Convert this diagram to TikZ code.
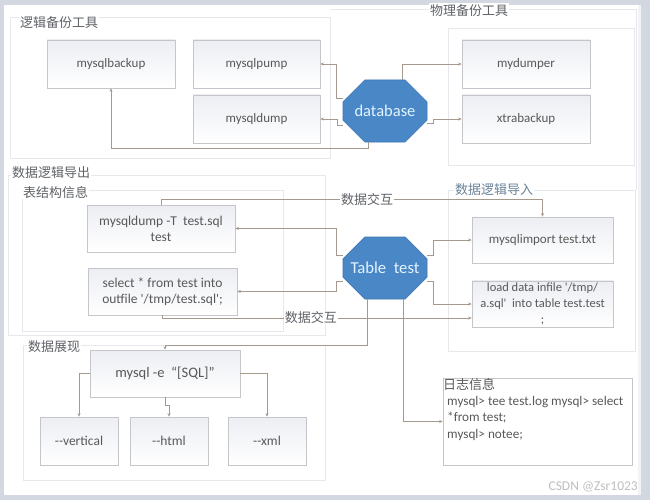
\documentclass[tikz,border=0pt]{standalone}
\usepackage{fontspec}
\usetikzlibrary{shapes.misc,calc,arrows.meta}
\newfontfamily\lat{Carlito}
\newfontfamily\cjk{Noto Sans CJK SC}
\definecolor{frame}{HTML}{D3D8E0}
\definecolor{panelline}{HTML}{E6E8EB}
\definecolor{boxline}{HTML}{C4C6CA}
\definecolor{boxtop}{HTML}{ECEEF3}
\definecolor{txt}{HTML}{595959}
\definecolor{lbl}{HTML}{5E6166}
\definecolor{lblblue}{HTML}{6A8299}
\definecolor{conn}{HTML}{A4998C}
\definecolor{octfill}{HTML}{4A87C6}
\definecolor{octline}{HTML}{3F78B4}
\definecolor{octtext}{HTML}{E2F4FF}
\tikzset{
  box/.style={draw=boxline, line width=0.6pt, top color=boxtop, bottom color=white,
    text=txt, font=\lat\fontsize{13}{15.5}\selectfont, align=center, inner sep=2pt},
  oct/.style={chamfered rectangle, chamfered rectangle xsep=22pt, chamfered rectangle ysep=16pt,
    minimum width=84pt, minimum height=62pt, fill=octfill, draw=octline, line width=0.6pt,
    text=octtext, inner sep=0pt},
  link/.style={draw=conn, line width=0.6pt, -{Stealth[length=3.5pt,width=3pt]}},
  grp/.style={draw=panelline, line width=0.8pt, fill=white},
  glabel/.style={text=lbl, font=\cjk\fontsize{13}{14}\selectfont, inner sep=0pt, anchor=north west},
  xlabel/.style={text=lbl, font=\cjk\fontsize{13}{14}\selectfont, fill=white, inner sep=1pt}
}
\begin{document}
\begin{tikzpicture}[x=1pt,y=-1pt]
\useasboundingbox (0,0) rectangle (650,500);
% background frame
\fill[frame] (0,0) rectangle (650,500);
\fill[white] (4,5) rectangle (638,495);
\fill[white!70!frame] (638,5) rectangle (641,495);
% panels
\draw[grp] (10,17) rectangle (330,158);
\draw[panelline, line width=0.8pt] (330,9) -- (636,9) -- (636,190);
\draw[grp] (448,28) rectangle (634,165);
\draw[grp] (8,175) rectangle (325,335);
\draw[grp] (22,190) rectangle (283,331);
\draw[grp] (448,190) rectangle (635,351);
\draw[grp] (23,345) rectangle (325,480);
% group labels
\node[glabel, fill=white, inner sep=1pt] (l1) at (19,15) {逻辑备份工具};
\node[glabel, fill=white, inner sep=1pt] (l2) at (429,3) {物理备份工具};
\node[glabel, fill=white, inner sep=1pt] (l3) at (11,165) {数据逻辑导出};
\node[glabel, fill=white, inner sep=1pt] (l4) at (22,185) {表结构信息};
\node[glabel, fill=white, inner sep=1pt, text=lblblue] (l5) at (454,182) {数据逻辑导入};
\node[glabel, fill=white, inner sep=1pt] (l6) at (27,339) {数据展现};
% boxes top
\node[box, minimum width=128pt, minimum height=48pt] (backup) at (111,64) {mysqlbackup};
\node[box, minimum width=127pt, minimum height=48pt] (pump) at (256.5,64) {mysqlpump};
\node[box, minimum width=127pt, minimum height=48pt] (dump) at (256.5,119) {mysqldump};
\node[box, minimum width=128pt, minimum height=48pt] (mydumper) at (526,64) {mydumper};
\node[box, minimum width=128pt, minimum height=48pt] (xtra) at (526,119) {xtrabackup};
\node[oct, font=\lat\fontsize{16.5}{18}\selectfont] (db) at (385,111) {database};
% boxes middle
\node[box, minimum width=148pt, minimum height=47pt, font=\lat\fontsize{13.5}{16}\selectfont] (tdump) at (161,228.5) {mysqldump -T\ \ test.sql\\test};
\node[box, minimum width=149pt, minimum height=47pt, font=\lat\fontsize{13.5}{16}\selectfont] (tsel) at (162.5,291.5) {select * from test into\\outfile '/tmp/test.sql';};
\node[box, minimum width=141pt, minimum height=46pt] (imp) at (542.5,240) {mysqlimport test.txt};
\node[box, minimum width=141pt, minimum height=46pt, font=\lat\fontsize{12.5}{16}\selectfont] (load) at (542.5,304) {load data infile '/tmp/\\a.sql'\ \ into table test.test\\;};
\node[oct, font=\lat\fontsize{16.7}{18}\selectfont] (tt) at (385,268) {Table\ \ test};
% boxes bottom
\node[box, minimum width=150pt, minimum height=47pt, font=\lat\fontsize{14.5}{16}\selectfont] (mysqle) at (165,373.5) {mysql -e\ \ “[SQL]”};
\node[box, minimum width=78pt, minimum height=48pt, font=\lat\fontsize{13.5}{16}\selectfont] (vert) at (79,441) {--vertical};
\node[box, minimum width=78pt, minimum height=48pt, font=\lat\fontsize{13.5}{16}\selectfont] (html) at (169,441) {--html};
\node[box, minimum width=78pt, minimum height=48pt, font=\lat\fontsize{13.5}{16}\selectfont] (xml) at (267,441) {--xml};
\node[draw=boxline, line width=0.6pt, fill=white, minimum width=189pt, minimum height=87pt] (log) at (537.5,421.5) {};
\node[anchor=north west, inner sep=0pt, text=txt, font=\cjk\fontsize{13}{15}\selectfont] (logtitle) at (443,378) {日志信息};
\node[anchor=north west, inner sep=0pt, align=left, text=txt, font=\lat\fontsize{13.2}{16.5}\selectfont] (logbody) at (447,396) {mysql> tee test.log mysql> select\\*from test;\\mysql> notee;};
% connectors database
\draw[link] ($(db.west)+(0,-13)$) -- ++(-6,0) |- (pump.east);
\draw[link] ($(db.west)+(0,14)$) -- ++(-5,0) |- (dump.east);
\draw[link] ($(db.south)+(-17,0)$) -- ++(0,6) -| (backup.south);
\draw[link] ($(db.north)+(17,0)$) |- (mydumper.west);
\draw[link] ($(db.east)+(0,12)$) -- ++(6,0) |- (xtra.west);
% connectors table test
\draw[link] ($(tt.west)+(0,-13)$) -- ++(-6,0) |- (tdump.east);
\draw[link] ($(tt.west)+(0,13)$) -- ++(-6,0) |- (tsel.east);
\draw[link] ($(tt.east)+(0,-13)$) -- ++(6,0) |- (imp.west);
\draw[link] ($(tt.east)+(0,13)$) -- ++(6,0) |- (load.west);
\draw[link] (tdump.north) -- ++(0,-5) -| node[xlabel, pos=0.27] (x1) {数据交互} (imp.north);
\draw[link] (tsel.south) |- node[xlabel, pos=0.74] (x2) {数据交互} ($(load.west)+(0,14)$);
\draw[link] ($(tt.south)+(-18,0)$) -- ++(0,46) -| (mysqle.north);
\draw[link] ($(tt.south)+(18,0)$) |- (log.west);
% connectors mysql -e
\draw[link] (mysqle.west) -| (vert.north);
\draw[link] (mysqle.south) -- ++(0,8) -| (html.north);
\draw[link] (mysqle.east) -| (xml.north);
% watermark
\node[anchor=south east, inner sep=0pt, text=black!25, font=\lat\fontsize{13.5}{14}\selectfont] (wm) at (638,492) {CSDN @Zsr1023};
\end{tikzpicture}
\end{document}
